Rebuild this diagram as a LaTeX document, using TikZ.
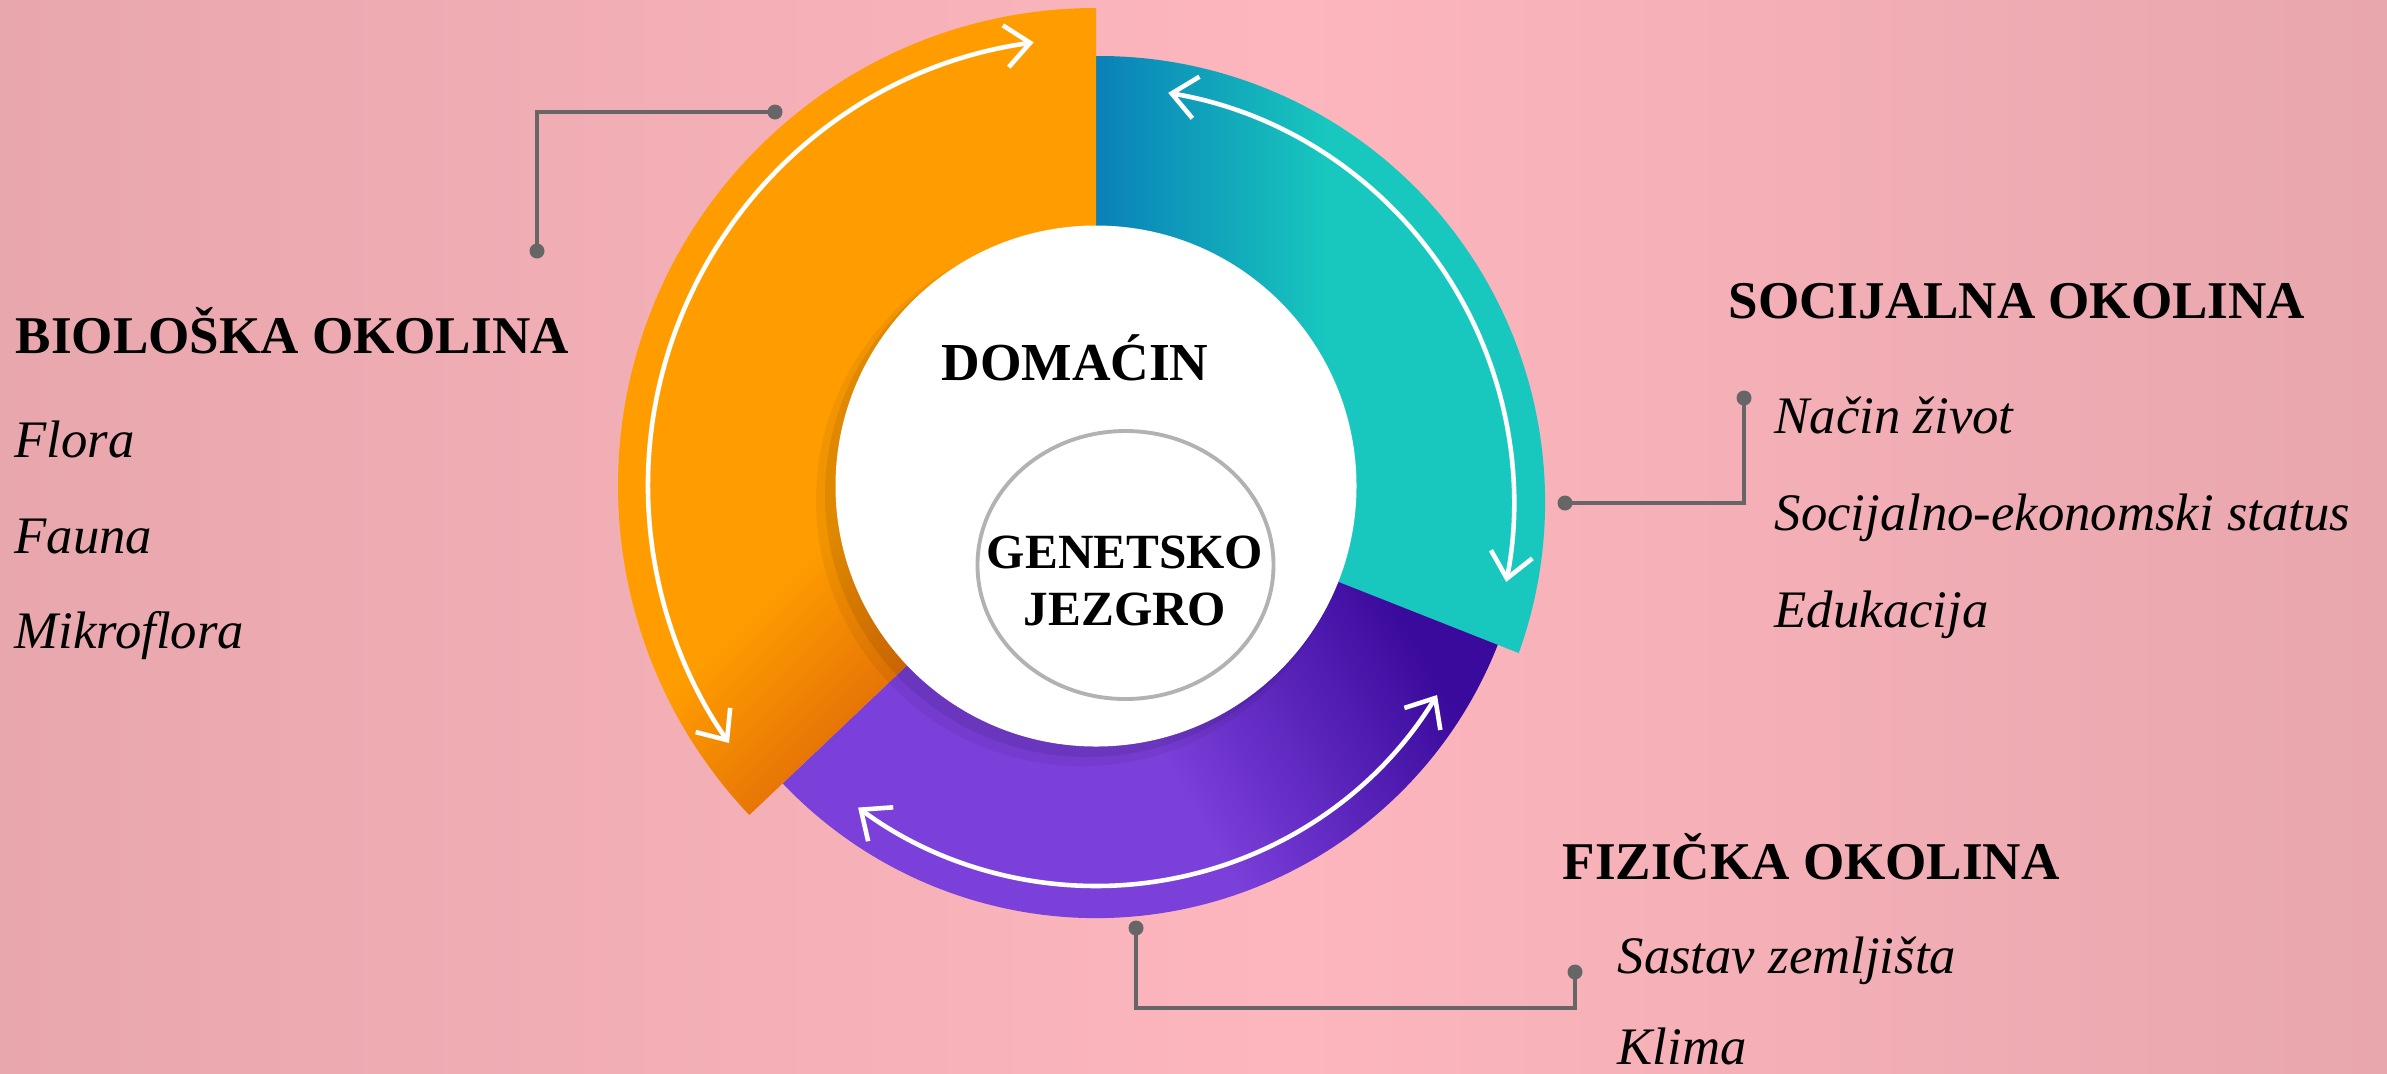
\documentclass[tikz,border=0pt]{standalone}
\usepackage{fontspec}
\setmainfont{Liberation Serif}
\usepackage{tikz}
\usetikzlibrary{positioning,arrows.meta}

\definecolor{bgedge}{HTML}{E8A6AD}
\definecolor{bgmid}{HTML}{FDB6BE}
\definecolor{orangec}{HTML}{FF9D00}
\definecolor{orangedark}{HTML}{D4550A}
\definecolor{tealc}{HTML}{18C8BE}
\definecolor{tealblue}{HTML}{0A80B8}
\definecolor{purplec}{HTML}{7B3FDA}
\definecolor{purpledark}{HTML}{3A0A9C}
\definecolor{linegray}{HTML}{666666}
\definecolor{genegray}{HTML}{B2B2B2}

\pgfdeclarehorizontalshading{bgshade}{100bp}{color(0bp)=(bgedge); color(25bp)=(bgedge); color(52bp)=(bgmid); color(75bp)=(bgedge); color(100bp)=(bgedge)}
\pgfdeclarehorizontalshading{tealshade}{100bp}{color(0bp)=(tealblue); color(25bp)=(tealblue); color(50bp)=(tealc); color(100bp)=(tealc)}
\pgfdeclarehorizontalshading{purpleshade}{100bp}{color(0bp)=(purplec); color(50bp)=(purplec); color(72bp)=(purpledark); color(100bp)=(purpledark)}
\pgfdeclarehorizontalshading{orangeshade}{100bp}{color(0bp)=(orangec); color(55bp)=(orangec); color(76bp)=(orangedark); color(100bp)=(orangedark)}

\tikzset{
  head/.style={anchor=base west, inner sep=0pt, font=\fontsize{15.1}{18}\selectfont\bfseries},
  item/.style={anchor=base west, inner sep=0pt, font=\fontsize{15}{18}\selectfont\itshape},
  dot/.style={circle, fill=linegray, inner sep=0pt, minimum size=0.15cm},
  conn/.style={draw=linegray, line width=1.1pt},
  ringarrow/.style={draw=white, line width=1.3pt, {Straight Barb[length=7pt,width=12pt]}-{Straight Barb[length=7pt,width=12pt]}}
}

\begin{document}
\begin{tikzpicture}
\shade[shading=bgshade] (0,0) rectangle (23.87,-10.73);
\useasboundingbox (0,0) rectangle (23.87,-10.73);

\coordinate (c) at (10.96,-4.86);
\coordinate (tc) at (10.99,-5.02);

% ring
\shade[shading=purpleshade, shading angle=30] (c) -- ++(-17:4.32) arc[start angle=-17, end angle=-136.5, radius=4.32] -- cycle;
\shade[shading=tealshade] (c) -- (10.96,-0.56) arc[start angle=90.4, end angle=-19.8, radius=4.46] -- cycle;
\shade[shading=orangeshade, shading angle=-45] (c) -- ++(90:4.78) arc[start angle=90, end angle=223.5, radius=4.78] -- cycle;

\fill[black, opacity=0.05] ([shift={(-0.14,-0.14)}]c) circle (2.66);
\fill[black, opacity=0.08] ([shift={(-0.09,-0.09)}]c) circle (2.62);
\fill[white] (c) circle (2.605);
\draw[genegray, line width=1.1pt] (11.255,-5.65) ellipse [x radius=1.48, y radius=1.34];

\node[inner sep=0pt, anchor=base, font=\fontsize{15.2}{18}\selectfont\bfseries] (host) at (10.75,-3.80) {DOMAĆIN};
\node[inner sep=0pt, anchor=base, font=\fontsize{14}{17}\selectfont\bfseries] (gen) at (11.25,-5.68) {GENETSKO};
\node[inner sep=0pt, anchor=base, font=\fontsize{14}{17}\selectfont\bfseries] (jez) at (11.25,-6.25) {JEZGRO};

\draw[ringarrow] ([shift={(98:4.48)}]c) arc[start angle=98, end angle=215, radius=4.48];
\draw[ringarrow] ([shift={(80.4:4.15)}]tc) arc[start angle=80.4, end angle=-11.1, radius=4.15];
\draw[ringarrow] ([shift={(-31.5:4.0)}]c) arc[start angle=-31.5, end angle=-126.5, radius=4.0];

% connectors
\node[dot] (bioa) at (7.75,-1.12) {};
\node[dot] (biob) at (5.37,-2.51) {};
\draw[conn] (bioa.center) -| (biob.center);

\node[dot] (soca) at (15.65,-5.03) {};
\node[dot] (socb) at (17.44,-3.98) {};
\draw[conn] (soca.center) -| (socb.center);

\node[dot] (fiza) at (11.36,-9.28) {};
\node[dot] (fizb) at (15.75,-9.72) {};
\coordinate (fizk) at (13.5,-10.08);
\draw[conn] (fiza.center) |- (fizk) -| (fizb.center);

% labels
\node[head] (bio) at (0.15,-3.53) {BIOLOŠKA OKOLINA};
\node[item] (flora) at (0.14,-4.57) {Flora};
\node[item] (fauna) at (0.14,-5.53) {Fauna};
\node[item] (mikro) at (0.14,-6.48) {Mikroflora};

\node[head] (soc) at (17.28,-3.18) {SOCIJALNA OKOLINA};
\node[item] (nacin) at (17.74,-4.33) {Način život};
\node[item] (status) at (17.74,-5.30) {Socijalno-ekonomski status};
\node[item] (edu) at (17.74,-6.27) {Edukacija};

\node[head] (fiz) at (15.62,-8.79) {FIZIČKA OKOLINA};
\node[item] (sastav) at (16.17,-9.73) {Sastav zemljišta};
\node[item] (klima) at (16.17,-10.64) {Klima};
\end{tikzpicture}
\end{document}
